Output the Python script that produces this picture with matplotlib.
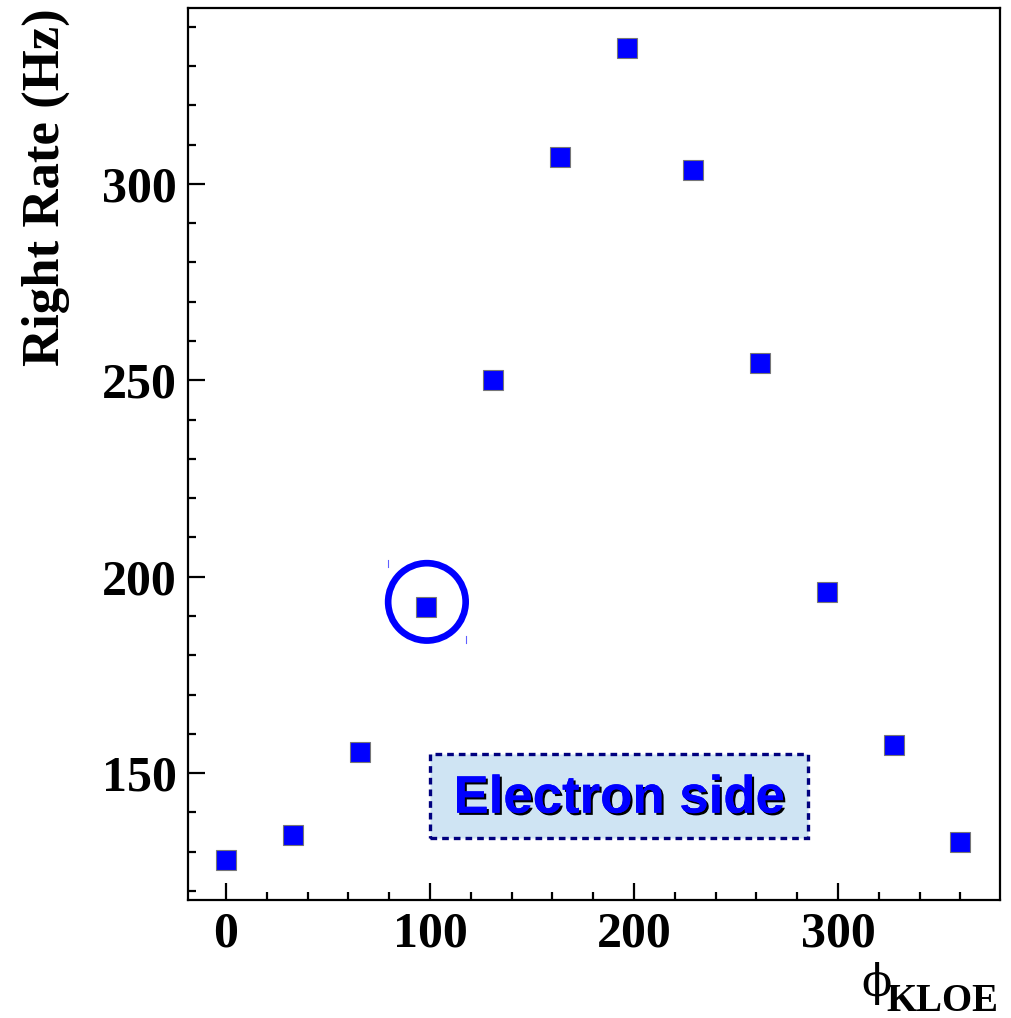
import matplotlib
matplotlib.use('Agg')
import matplotlib.pyplot as plt
import matplotlib.patheffects as pe
from matplotlib.patches import Ellipse, Rectangle
from matplotlib.ticker import MultipleLocator

# phi positions (deg) and measured right-side rates
phi = [0, 32.7, 65.5, 98.2, 130.9, 163.6, 196.4, 229.1, 261.8, 294.5, 327.3, 360.0]
rate = [127.9, 134.2, 155.3, 192.4, 250.0, 306.9, 334.6, 303.6, 254.3, 196.2, 157.1, 132.4]

xticks = [0, 100, 200, 300]
yticks = [150, 200, 250, 300]

fig = plt.figure(figsize=(10.11, 10.18), dpi=100)
ax = fig.add_axes([0.186, 0.1159, 0.803, 0.8763])

ax.plot(phi, rate, 's', color='#0000ff', ms=14.5, mec='#777777', mew=0.8, zorder=3)

ax.set_xlim(-18.6, 379.4)
ax.set_ylim(117.7, 344.8)
ax.set_xticks(xticks)
ax.set_yticks(yticks)
ax.xaxis.set_minor_locator(MultipleLocator(20))
ax.yaxis.set_minor_locator(MultipleLocator(10))
ax.tick_params(which='both', direction='in', top=False, right=False, width=1.6)
ax.tick_params(which='major', length=12, pad=8)
ax.tick_params(which='minor', length=6)
for lab in ax.get_xticklabels() + ax.get_yticklabels():
    lab.set_fontfamily('Liberation Serif')
    lab.set_fontweight('bold')
    lab.set_fontsize(36)
for s in ax.spines.values():
    s.set_linewidth(1.6)

# highlighted point
ax.add_patch(Ellipse((98.5, 193.6), 38.0, 19.7, fill=False, ec='#0000ff', lw=4.8, zorder=4))
ax.plot([79.4, 79.4], [202.5, 204.3], color='#6060ff', lw=0.8)
ax.plot([117.6, 117.6], [183.2, 185.0], color='#6060ff', lw=0.8)

# label box
ax.add_patch(Rectangle((100.0, 133.5), 185.3, 21.3, fc='#cfe4f3', ec='#00007f',
                       lw=2.4, ls=(0, (2, 1.5)), zorder=2))
ax.text(192.6, 143.5, 'Electron side', ha='center', va='center', fontsize=38,
        fontfamily='Liberation Sans', fontweight='bold', color='#0000ff', zorder=5,
        path_effects=[pe.withSimplePatchShadow(offset=(1.6, -1.6), shadow_rgbFace='black', alpha=1.0),
                      pe.Normal()])

fig.text(0.045, 0.992, 'Right Rate (Hz)', rotation=90, ha='center', va='top',
         fontsize=38, fontfamily='Liberation Serif', fontweight='bold')
fig.text(0.867, 0.022, '\u03d5', ha='center', va='baseline', fontsize=32,
         fontfamily='DejaVu Serif')
fig.text(0.988, 0.007, 'KLOE', ha='right', va='baseline', fontsize=28,
         fontfamily='Liberation Serif', fontweight='bold')

fig.savefig('out.png', dpi=100, facecolor='white')
